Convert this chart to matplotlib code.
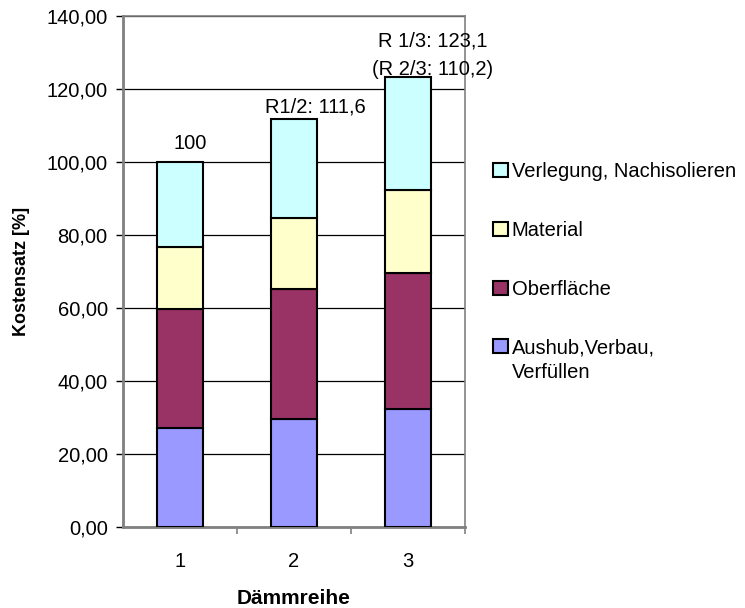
import matplotlib.pyplot as plt
from matplotlib.patches import Patch
from matplotlib.ticker import FuncFormatter

plt.rcParams['font.family'] = ['Liberation Sans', 'DejaVu Sans']

reihen = [1, 2, 3]
aushub = [27.0, 29.6, 32.3]
oberflaeche = [32.5, 35.4, 37.1]
material = [17.2, 19.7, 22.8]
verlegung = [23.3, 26.9, 30.9]

labels = ['Aushub,Verbau,\nVerfüllen', 'Oberfläche', 'Material', 'Verlegung, Nachisolieren']
farben = ['#9999FF', '#993366', '#FFFFCC', '#CCFFFF']
beschriftung = ['100', 'R1/2: 111,6', 'R 1/3: 123,1\n(R 2/3: 110,2)']
# Lage der Beschriftung relativ zur Saeulenmitte / -oberkante
versatz_x = [0.09, 0.19, 0.22]
versatz_y = [3.6, 2.0, 0.8]

fig = plt.figure(figsize=(7.45, 6.08), dpi=100)
ax = fig.add_axes([0.165, 0.134, 0.459, 0.84])

unten = [0, 0, 0]
for werte, farbe in zip([aushub, oberflaeche, material, verlegung], farben):
    ax.bar(reihen, werte, width=0.4, bottom=unten, color=farbe,
           edgecolor='black', linewidth=1.5, zorder=3)
    unten = [u + w for u, w in zip(unten, werte)]

# Beschriftung über den Säulen
for x, summe, txt, dx, dy in zip(reihen, unten, beschriftung, versatz_x, versatz_y):
    ax.text(x + dx, summe + dy, txt, ha='center', va='baseline', fontsize=14.5,
            linespacing=1.6, clip_on=False, zorder=5)

ax.set_xlim(0.5, 3.5)
ax.set_ylim(0, 140)
ax.set_yticks(range(0, 141, 20))
ax.yaxis.set_major_formatter(FuncFormatter(lambda v, p: ('%.2f' % v).replace('.', ',')))
ax.set_xticks([1.5, 2.5, 3.5])
ax.set_xticklabels([])
ax.set_xticks(reihen, minor=True)
ax.set_xticklabels([str(r) for r in reihen], minor=True)
ax.tick_params(axis='x', which='minor', length=0, pad=18, labelsize=14.5)
ax.tick_params(axis='x', which='major', length=5, color='#808080', width=1.2)
ax.tick_params(axis='y', length=5, width=1, labelsize=14.5, pad=6)
ax.yaxis.grid(True, color='black', linewidth=0.9, zorder=0)
ax.set_axisbelow(True)
for s in ax.spines.values():
    s.set_color('#808080')
    s.set_linewidth(1.2)
ax.spines['left'].set_linewidth(2)
ax.spines['bottom'].set_linewidth(2)

ax.set_ylabel('Kostensatz [%]', fontsize=13, fontweight='bold', labelpad=12)
ax.set_xlabel('Dämmreihe', fontsize=15, fontweight='bold', labelpad=13)

handles = [Patch(facecolor=f, edgecolor='black', linewidth=1.5) for f in farben]
leg = fig.legend(handles[::-1], labels[::-1], loc='upper left', bbox_to_anchor=(0.662, 0.733),
                 frameon=False, fontsize=14.5, handlelength=0.72, handleheight=0.72,
                 handletextpad=0.2, labelspacing=1.98, borderpad=0, borderaxespad=0)
for t in leg.get_texts():
    t.set_linespacing(1.35)
# Kaestchen bei mehrzeiliger Beschriftung an der ersten Zeile ausrichten
for spalte in leg._legend_handle_box.get_children():
    for zeile in spalte.get_children():
        if '\n' in zeile.get_children()[1]._text.get_text():
            zeile.align = 'top'

fig.savefig('out.png', dpi=100)
